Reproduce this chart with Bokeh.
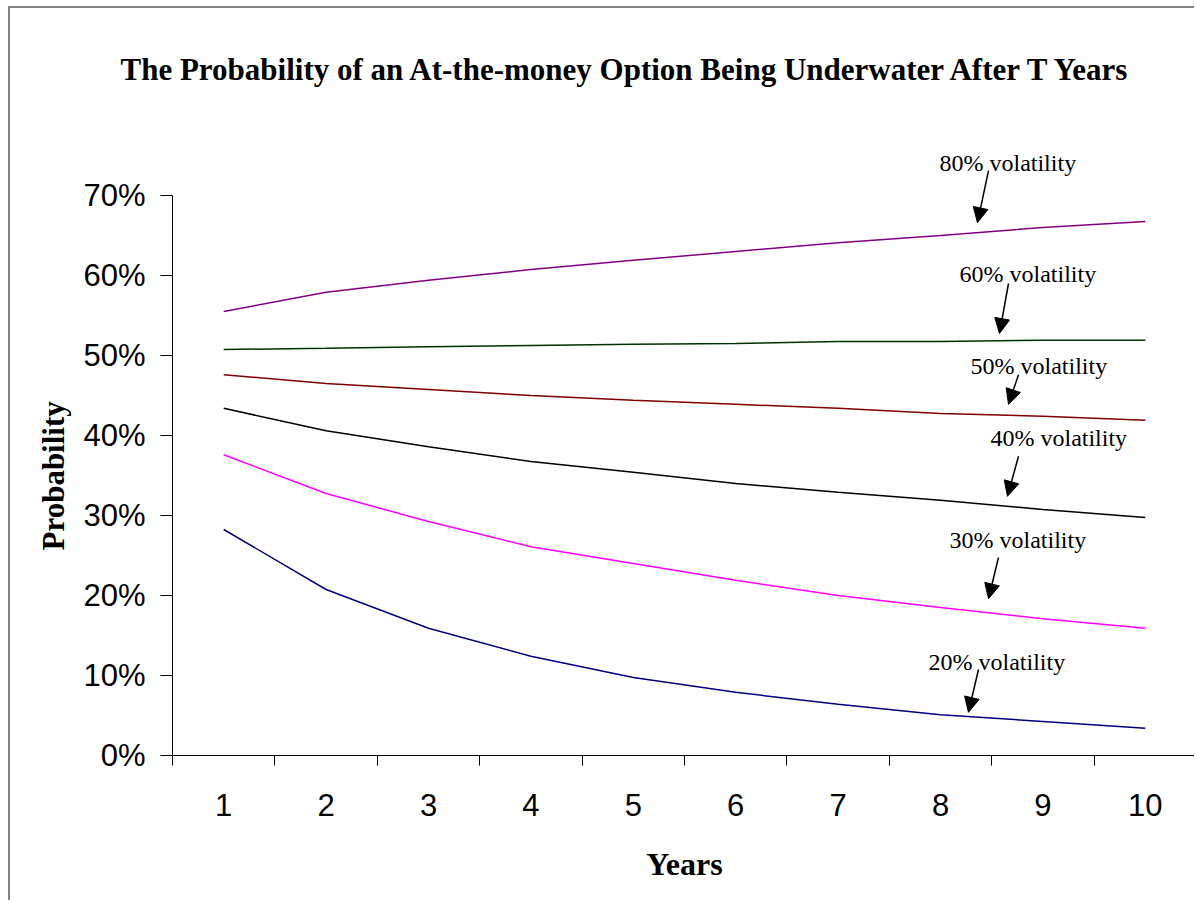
from bokeh.plotting import figure
from bokeh.models import Range1d, FixedTicker, NumeralTickFormatter, Label, Arrow, NormalHead, Title
from bokeh.embed import file_html
from bokeh.resources import INLINE

years = [1, 2, 3, 4, 5, 6, 7, 8, 9, 10]
vol_80 = [0.555, 0.579, 0.594, 0.6075, 0.619, 0.630, 0.641, 0.650, 0.660, 0.6675]
vol_60 = [0.5075, 0.509, 0.511, 0.5125, 0.514, 0.515, 0.5175, 0.5175, 0.519, 0.519]
vol_50 = [0.476, 0.465, 0.4575, 0.450, 0.444, 0.439, 0.434, 0.4275, 0.424, 0.419]
vol_40 = [0.434, 0.406, 0.386, 0.3675, 0.354, 0.340, 0.329, 0.319, 0.3075, 0.2975]
vol_30 = [0.376, 0.3275, 0.2925, 0.261, 0.240, 0.219, 0.200, 0.185, 0.171, 0.159]
vol_20 = [0.2825, 0.2075, 0.159, 0.124, 0.0975, 0.079, 0.064, 0.051, 0.0425, 0.034]

series = [
    ("80%", vol_80, "#800080"),
    ("60%", vol_60, "#003300"),
    ("50%", vol_50, "#800000"),
    ("40%", vol_40, "#000000"),
    ("30%", vol_30, "#FF00FF"),
    ("20%", vol_20, "#000080"),
]

title_text = "The Probability of an At-the-money Option Being Underwater After T Years"

# annotation positions (text left/center, arrow start, arrow end) in data units
label_text = ["80% volatility", "60% volatility", "50% volatility",
              "40% volatility", "30% volatility", "20% volatility"]
label_x = [7.99, 8.186, 8.293, 8.488, 8.088, 7.883]
label_y = [0.741, 0.6025, 0.4875, 0.3975, 0.269, 0.1175]
arrow_x0 = [8.469, 8.664, 8.762, 8.762, 8.566, 8.371]
arrow_y0 = [0.731, 0.590, 0.476, 0.374, 0.2475, 0.1075]
arrow_x1 = [8.361, 8.576, 8.664, 8.654, 8.469, 8.273]
arrow_y1 = [0.666, 0.5275, 0.439, 0.324, 0.196, 0.054]

y_ticks = [0, 0.1, 0.2, 0.3, 0.4, 0.5, 0.6, 0.7]
x_bounds = [0.5, 1.5, 2.5, 3.5, 4.5, 5.5, 6.5, 7.5, 8.5, 9.5, 10.5]

p = figure(width=1186, height=894, output_backend="svg", toolbar_location=None,
           x_range=Range1d(0.5, 10.5), y_range=Range1d(0, 0.8),
           title=title_text,
           min_border_left=162, min_border_right=0, min_border_top=107, min_border_bottom=147)
p.styles = {"margin-left": "8px", "margin-top": "6px",
            "border-left": "2px solid #808080", "border-top": "2px solid #808080"}

p.title.text_font = "Liberation Serif"
p.title.text_font_size = "31px"
p.title.text_font_style = "bold"
p.title.text_color = "black"
p.title.align = "left"
p.title.offset = -52
p.title.standoff = 58

p.xgrid.visible = False
p.ygrid.visible = False
p.outline_line_color = None
p.background_fill_color = "white"
p.border_fill_color = "white"

for name, vals, col in series:
    p.line(years, vals, line_color=col, line_width=1.5)

xa = p.xaxis[0]
xa.ticker = FixedTicker(ticks=years, minor_ticks=x_bounds)
xa.major_tick_line_color = None
xa.major_tick_out = 0
xa.major_tick_in = 0
xa.minor_tick_line_color = "black"
xa.minor_tick_out = 10
xa.minor_tick_in = 0
xa.major_label_standoff = 28
xa.major_label_text_font = "Liberation Sans"
xa.major_label_text_font_size = "31px"
xa.major_label_text_color = "black"
xa.axis_line_color = "black"
xa.axis_label = "Years"
xa.axis_label_text_font = "Liberation Serif"
xa.axis_label_text_font_size = "32px"
xa.axis_label_text_font_style = "bold"
xa.axis_label_text_color = "black"
xa.axis_label_standoff = 27

ya = p.yaxis[0]
ya.bounds = (0, 0.7)
ya.ticker = FixedTicker(ticks=y_ticks, minor_ticks=[])
ya.formatter = NumeralTickFormatter(format="0%")
ya.major_tick_out = 12
ya.major_tick_in = 0
ya.major_tick_line_color = "black"
ya.minor_tick_line_color = None
ya.major_label_standoff = 15
ya.major_label_text_font = "Liberation Sans"
ya.major_label_text_font_size = "31px"
ya.major_label_text_color = "black"
ya.axis_line_color = "black"

p.add_layout(Title(text="Probability", align="left", offset=205, standoff=20,
                   text_font="Liberation Serif", text_font_size="31px", text_font_style="bold",
                   text_color="black"), "left")

for t, lx, ly in zip(label_text, label_x, label_y):
    p.add_layout(Label(x=lx, y=ly, text=t, text_align="left", text_baseline="middle",
                       text_font="Liberation Serif", text_font_size="24px", text_color="black"))

for x0, y0, x1, y1 in zip(arrow_x0, arrow_y0, arrow_x1, arrow_y1):
    p.add_layout(Arrow(x_start=x0, y_start=y0, x_end=x1, y_end=y1, line_color="black", line_width=1.5,
                       end=NormalHead(size=15, fill_color="black", line_color="black")))

open("out.html", "w").write(file_html(p, INLINE))
